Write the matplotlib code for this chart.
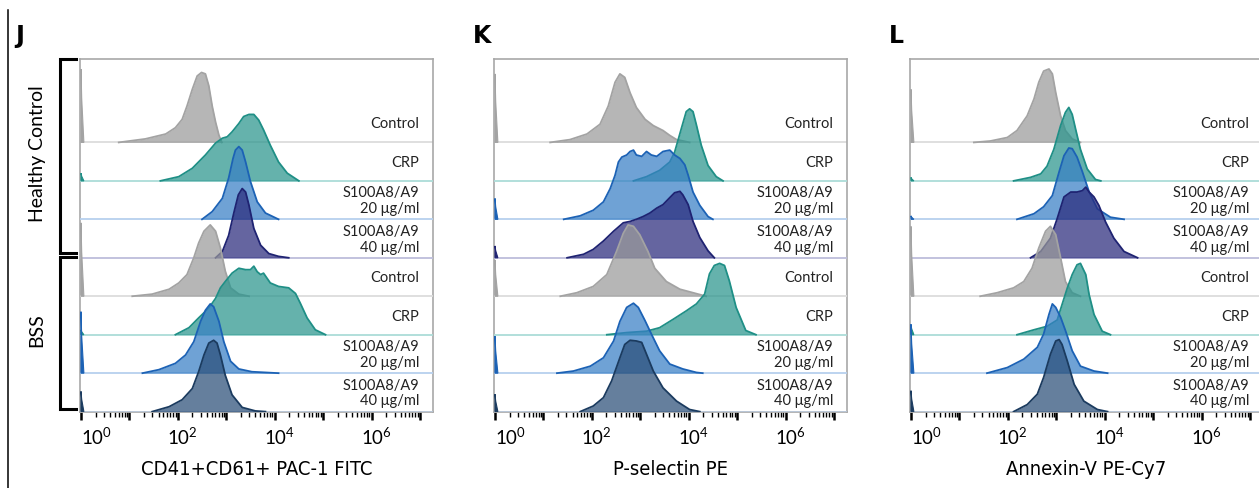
import numpy as np
import matplotlib
matplotlib.use('Agg')
import matplotlib.pyplot as plt
import matplotlib.transforms as mtransforms
from matplotlib.lines import Line2D

plt.rcParams['font.family'] = ['Lato', 'DejaVu Sans']
plt.rcParams['mathtext.fontset'] = 'custom'
plt.rcParams['mathtext.rm'] = 'Lato'
plt.rcParams['mathtext.it'] = 'Lato:italic'
plt.rcParams['mathtext.bf'] = 'Lato:bold'

# ---- data : log10 fluorescence / % of mode, rows top -> bottom ----
row_labels = ['Control', 'CRP', 'S100A8/A9\n20 μg/ml', 'S100A8/A9\n40 μg/ml',
              'Control', 'CRP', 'S100A8/A9\n20 μg/ml', 'S100A8/A9\n40 μg/ml']
row_kind = ['grey', 'teal', 'blue', 'navy', 'grey', 'teal', 'blue', 'slate']
panel_letters = ['J', 'K', 'L']
x_titles = ['CD41+CD61+ PAC-1 FITC', 'P-selectin PE', 'Annexin-V PE-Cy7']

# J : PAC-1
J_curves = [
    ([0.78, 1.33, 1.75, 1.95, 2.09, 2.19, 2.30, 2.40, 2.49, 2.57, 2.64, 2.71, 2.78, 2.85, 2.91],
     [0, 5, 12, 21, 33, 52, 76, 95, 100, 98, 81, 52, 29, 10, 0]),
    ([1.64, 2.02, 2.30, 2.57, 2.78, 2.92, 3.02, 3.12, 3.26, 3.36, 3.47, 3.57, 3.67, 3.77, 3.91, 4.08, 4.26, 4.50],
     [0, 6, 18, 37, 54, 61, 63, 70, 82, 92, 95, 95, 87, 73, 51, 27, 11, 0]),
    ([2.50, 2.71, 2.92, 3.05, 3.14, 3.19, 3.26, 3.33, 3.40, 3.50, 3.64, 3.81, 4.08],
     [0, 11, 30, 59, 87, 99, 104, 99, 82, 54, 25, 9, 0]),
    ([2.78, 2.92, 3.05, 3.16, 3.25, 3.33, 3.40, 3.47, 3.57, 3.71, 3.88, 4.08, 4.29],
     [0, 9, 32, 65, 90, 99, 94, 75, 42, 18, 6, 2, 0]),
    ([1.06, 1.47, 1.82, 2.02, 2.19, 2.33, 2.43, 2.54, 2.67, 2.78, 2.88, 2.98, 3.09, 3.26, 3.47],
     [0, 3, 10, 19, 31, 55, 76, 93, 102, 93, 69, 36, 12, 3, 0]),
    ([1.95, 2.23, 2.43, 2.64, 2.78, 2.88, 2.98, 3.12, 3.26, 3.40, 3.50, 3.57, 3.64, 3.71, 3.77, 3.91,
      4.08, 4.29, 4.43, 4.53, 4.67, 4.84, 5.05],
     [0, 10, 24, 38, 52, 67, 76, 88, 95, 93, 93, 98, 90, 86, 88, 74, 69, 67, 59, 45, 24, 7, 0]),
    ([1.27, 1.61, 1.95, 2.16, 2.33, 2.47, 2.57, 2.67, 2.74, 2.85, 2.95, 3.09, 3.26, 3.53, 3.81, 4.08],
     [0, 5, 14, 26, 45, 74, 90, 99, 95, 74, 45, 17, 6, 2, 1, 0]),
    ([1.47, 1.82, 2.09, 2.30, 2.43, 2.54, 2.64, 2.74, 2.81, 2.88, 2.98, 3.12, 3.33, 3.60, 3.81],
     [0, 7, 17, 33, 57, 81, 98, 102, 98, 81, 52, 24, 6, 1, 0]),
]
J_spikes = [105, 11, 0, 0, 105, 7, 88, 29]

# K : P-selectin
K_curves = [
    ([1.14, 1.55, 1.90, 2.17, 2.34, 2.48, 2.58, 2.68, 2.79, 2.92, 3.10, 3.27, 3.47, 3.61, 3.75, 4.02],
     [0, 4, 12, 26, 52, 86, 98, 93, 71, 50, 33, 24, 17, 10, 4, 0]),
    ([2.86, 3.13, 3.40, 3.61, 3.71, 3.85, 3.95, 4.02, 4.09, 4.16, 4.26, 4.40, 4.57, 4.71],
     [0, 6, 15, 27, 41, 75, 99, 103, 99, 80, 51, 22, 6, 0]),
    ([1.42, 1.76, 2.03, 2.24, 2.38, 2.48, 2.55, 2.62, 2.72, 2.79, 2.86, 2.92, 3.03, 3.13, 3.23, 3.34,
      3.47, 3.61, 3.71, 3.82, 3.92, 3.99, 4.09, 4.23, 4.40, 4.50],
     [0, 5, 13, 25, 44, 63, 82, 89, 92, 97, 99, 92, 90, 97, 92, 90, 97, 99, 92, 87, 78, 63, 39, 20, 4, 0]),
    ([1.49, 1.83, 2.03, 2.24, 2.45, 2.65, 2.79, 2.92, 3.06, 3.20, 3.34, 3.47, 3.61, 3.71, 3.82, 3.88,
      3.99, 4.09, 4.23, 4.40, 4.53],
     [0, 5, 12, 24, 38, 50, 52, 55, 59, 64, 71, 76, 86, 93, 95, 90, 76, 52, 29, 10, 0]),
    ([1.35, 1.69, 2.03, 2.31, 2.51, 2.65, 2.75, 2.86, 2.99, 3.16, 3.30, 3.54, 3.82, 4.09, 4.36],
     [0, 5, 14, 31, 64, 90, 102, 100, 88, 64, 40, 21, 10, 5, 0]),
    ([2.31, 2.72, 3.13, 3.40, 3.68, 3.95, 4.16, 4.33, 4.43, 4.53, 4.64, 4.74, 4.84, 4.98, 5.18, 5.39],
     [0, 3, 5, 10, 22, 34, 44, 58, 87, 99, 102, 99, 77, 39, 6, 0]),
    ([1.28, 1.62, 1.97, 2.24, 2.45, 2.58, 2.72, 2.86, 2.96, 3.10, 3.23, 3.40, 3.61, 3.88, 4.16, 4.29],
     [0, 3, 10, 22, 46, 74, 94, 100, 94, 75, 56, 32, 13, 6, 1, 0]),
    ([1.76, 2.03, 2.24, 2.41, 2.58, 2.68, 2.79, 2.92, 3.03, 3.13, 3.27, 3.47, 3.75, 4.02, 4.23],
     [0, 8, 20, 44, 77, 96, 102, 101, 99, 82, 58, 34, 15, 3, 0]),
]
K_spikes = [98, 0, 30, 17, 52, 0, 53, 25]

# L : Annexin-V
L_curves = [
    ([1.30, 1.64, 1.99, 2.19, 2.40, 2.54, 2.64, 2.74, 2.85, 2.92, 2.99, 3.09, 3.19, 3.33, 3.50],
     [0, 2, 7, 17, 38, 62, 86, 102, 105, 98, 71, 38, 17, 5, 0]),
    ([2.12, 2.47, 2.68, 2.81, 2.95, 3.09, 3.19, 3.26, 3.33, 3.40, 3.50, 3.64, 3.81, 3.92],
     [0, 5, 10, 21, 45, 79, 98, 105, 95, 74, 45, 17, 2, 0]),
    ([2.19, 2.54, 2.74, 2.92, 3.06, 3.16, 3.26, 3.33, 3.43, 3.54, 3.68, 3.85, 4.12, 4.40],
     [0, 8, 18, 34, 68, 91, 102, 101, 89, 68, 39, 15, 3, 0]),
    ([2.47, 2.68, 2.88, 3.02, 3.16, 3.30, 3.43, 3.54, 3.61, 3.68, 3.78, 3.88, 4.02, 4.19, 4.40, 4.68],
     [0, 9, 28, 56, 87, 94, 94, 96, 101, 94, 87, 75, 51, 28, 9, 0]),
    ([1.43, 1.78, 2.12, 2.33, 2.50, 2.64, 2.78, 2.88, 2.99, 3.09, 3.19, 3.33, 3.50],
     [0, 5, 12, 21, 40, 69, 93, 100, 88, 55, 21, 5, 0]),
    ([2.19, 2.54, 2.81, 3.02, 3.12, 3.23, 3.33, 3.43, 3.50, 3.61, 3.68, 3.78, 3.95, 4.12],
     [0, 7, 12, 21, 43, 67, 86, 100, 102, 86, 57, 29, 5, 0]),
    ([1.57, 1.99, 2.33, 2.61, 2.74, 2.85, 2.92, 2.99, 3.09, 3.19, 3.33, 3.50, 3.78, 4.06],
     [0, 8, 20, 37, 56, 84, 99, 94, 80, 61, 32, 10, 3, 0]),
    ([2.12, 2.40, 2.61, 2.74, 2.88, 2.99, 3.06, 3.12, 3.23, 3.37, 3.57, 3.85, 4.06],
     [0, 10, 25, 49, 82, 101, 103, 96, 72, 39, 15, 3, 0]),
]
L_spikes = [76, 5, 5, 0, 100, 14, 70, 30]

fill_col = {'grey': '#9a9a9a', 'teal': '#29958d', 'blue': '#387fc5', 'navy': '#2a2a7c', 'slate': '#2a4e78'}
edge_col = {'grey': '#a3a3a3', 'teal': '#1f8f86', 'blue': '#1c62b5', 'navy': '#1f2372', 'slate': '#1b3b5f'}
base_col = {'grey': '#dcdcdc', 'teal': '#abdcd8', 'blue': '#b6d0ee', 'navy': '#bdbddb', 'slate': '#bac8da'}

PEAK = 70 / 38.5   # mode height in row units
W, H = 1259, 488

fig = plt.figure(figsize=(12.59, 4.88), dpi=100)


def draw_panel(left, curves, spikes, xtitle):
    ax = fig.add_axes([left / W, 1 - 412 / H, 353 / W, 353 / H])
    for i, ((lx, pc), sp) in enumerate(zip(curves, spikes)):
        base = 7 - i
        k = row_kind[i]
        z = 2 + i
        ax.axhline(base, color=base_col[k], lw=1.3, zorder=z)
        x = 10 ** np.array(lx)
        y = base + np.array(pc) / 100 * PEAK
        ax.fill_between(x, base, y, color=fill_col[k], alpha=0.72, lw=0, zorder=z)
        ax.plot(x, y, color=edge_col[k], lw=1.3, zorder=z)
        if sp > 0:
            sx = 10 ** np.array([0.0, 0.0, 0.015, 0.06])
            sy = base + np.array([0, sp, sp * 0.6, 0]) / 100 * PEAK
            ax.fill(sx, sy, color=edge_col[k], lw=0.8, zorder=z)
        ax.text(0.96, base + 0.47, row_labels[i], transform=ax.get_yaxis_transform(),
                ha='right', va='center', fontsize=10.5, linespacing=1.15,
                color='#222222', zorder=20)
    ax.set_xscale('log')
    ax.set_xlim(10 ** -0.02, 10 ** 7.27)
    ax.set_ylim(-0.01, 353 / 38.5)
    ax.set_yticks([])
    ax.set_xticks([10.0 ** e for e in range(8)])
    ax.set_xticklabels(['$10^{%d}$' % e if e % 2 == 0 else '' for e in range(8)])
    ax.set_xticks([m * 10.0 ** e for e in range(7) for m in range(2, 10)], minor=True)
    ax.tick_params(axis='x', which='major', direction='out', length=5.5, width=1.8,
                   color='black', labelsize=13.5, pad=5)
    ax.tick_params(axis='x', which='minor', direction='out', length=3.5, width=1.0,
                   color='black')
    for s in ax.spines.values():
        s.set_color('#a8a8a8')
        s.set_linewidth(1.2)
    for j, lab in enumerate(ax.get_xticklabels()):
        dx = 16 if j == 0 else 5
        lab.set_transform(lab.get_transform() +
                          mtransforms.ScaledTranslation(dx / 100, 0, fig.dpi_scale_trans))
    ax.set_xlabel(xtitle, fontsize=14.5, labelpad=9, family='DejaVu Sans',
                  fontstretch='condensed')
    return ax


lefts = [80, 494, 910]
for left, curves, spikes, xt in zip(lefts, [J_curves, K_curves, L_curves],
                                    [J_spikes, K_spikes, L_spikes], x_titles):
    draw_panel(left, curves, spikes, xt)

# panel letters
for px, letter in zip([20, 482, 896], panel_letters):
    fig.text(px / W, 1 - 36 / H, letter, fontsize=17, fontweight='bold',
             family='DejaVu Sans', ha='center', va='center')

# group labels and brackets
fig.text(37 / W, 1 - 154 / H, 'Healthy Control', rotation=90, fontsize=14,
         ha='center', va='center')
fig.text(37 / W, 1 - 330 / H, 'BSS', rotation=90, fontsize=14,
         ha='center', va='center')
for top, bot in [(59, 253), (257, 409)]:
    xs = np.array([76, 60, 60, 76]) / W
    ys = 1 - np.array([top, top, bot, bot]) / H
    fig.add_artist(Line2D(xs, ys, color='black', lw=2.2, solid_joinstyle='miter'))

# left border line
fig.add_artist(Line2D([7.5 / W, 7.5 / W], [0, 1 - 10 / H], color='black', lw=1.1))

fig.savefig('out.png', dpi=100)
